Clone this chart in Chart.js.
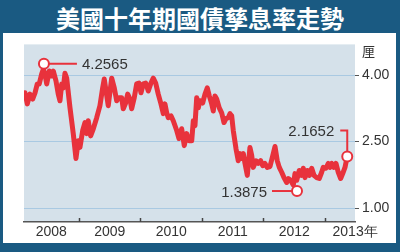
<!DOCTYPE html>
<html lang="zh-Hant">
<head>
<meta charset="UTF-8">
<title>美國十年期國債孳息率走勢</title>
<script src="https://cdn.jsdelivr.net/npm/chart.js"></script>
<style>
  body { margin: 0; width: 400px; height: 252px; background: #1a5a82; position: relative; overflow: hidden; }
  #title { position: absolute; left: 0; top: 0; width: 400px; height: 33px; line-height: 34px; text-align: center;
           color: #fff; font: bold 24px "Noto Sans CJK TC", sans-serif; }
  #panel { position: absolute; left: 3px; top: 33px; width: 393px; height: 210px; background: #fff; }
  #unit { position: absolute; left: 359px; top: 10px; font: 13px "Noto Sans CJK TC", sans-serif; color: #333; line-height: 16px; }
  canvas { position: absolute; left: 0; top: 0; }
</style>
</head>
<body>
<div id="title">美國十年期國債孳息率走勢</div>
<div id="panel">
  <canvas id="chart" width="393" height="210"></canvas>
  <div id="unit">厘</div>
</div>
<script>
// decimal years and yields (%)
const years = [
  2008.122, 2008.160, 2008.203, 2008.247, 2008.285, 2008.322, 2008.354, 2008.393, 2008.420, 2008.447,
  2008.475, 2008.517, 2008.556, 2008.582, 2008.626, 2008.663, 2008.691, 2008.719, 2008.745, 2008.772,
  2008.800, 2008.854, 2008.907, 2008.951, 2008.989, 2009.016, 2009.060, 2009.098, 2009.125, 2009.151,
  2009.190, 2009.233, 2009.288, 2009.341, 2009.385, 2009.411, 2009.476, 2009.532, 2009.574, 2009.613,
  2009.650, 2009.694, 2009.720, 2009.759, 2009.792, 2009.829, 2009.857, 2009.899, 2009.938, 2009.976,
  2010.008, 2010.046, 2010.085, 2010.127, 2010.171, 2010.208, 2010.247, 2010.289, 2010.333, 2010.371,
  2010.398, 2010.426, 2010.452, 2010.496, 2010.533, 2010.589, 2010.626, 2010.670, 2010.712, 2010.751,
  2010.789, 2010.833, 2010.859, 2010.886, 2010.914, 2010.940, 2010.967, 2011.011, 2011.049, 2011.086,
  2011.119, 2011.158, 2011.184, 2011.211, 2011.239, 2011.281, 2011.320, 2011.358, 2011.390, 2011.428,
  2011.455, 2011.483, 2011.509, 2011.553, 2011.590, 2011.618, 2011.646, 2011.672, 2011.699, 2011.737,
  2011.780, 2011.808, 2011.834, 2011.878, 2011.915, 2011.954, 2011.987, 2012.024, 2012.062, 2012.106,
  2012.159, 2012.187, 2012.224, 2012.257, 2012.296, 2012.333, 2012.377, 2012.403, 2012.442, 2012.485,
  2012.512, 2012.540, 2012.582, 2012.621, 2012.647, 2012.675, 2012.712, 2012.745, 2012.784, 2012.821,
  2012.865, 2012.907, 2012.946, 2012.972, 2013.016, 2013.054, 2013.081, 2013.109, 2013.146, 2013.179,
  2013.216, 2013.255, 2013.288, 2013.325, 2013.362
];
const yields = [
  3.60, 3.35, 3.57, 3.46, 3.60, 3.80, 3.80, 4.02, 4.13, 4.02,
  3.80, 4.09, 3.98, 4.09, 3.87, 3.57, 3.42, 3.80, 3.71, 4.04,
  3.93, 3.26, 2.68, 2.12, 2.52, 2.37, 2.75, 2.93, 2.68, 2.97,
  2.63, 2.79, 3.04, 3.31, 3.71, 3.91, 3.31, 3.93, 3.71, 3.42,
  3.49, 3.49, 3.24, 3.37, 3.57, 3.46, 3.24, 3.49, 3.80, 3.82,
  3.60, 3.80, 3.82, 3.64, 3.82, 3.93, 3.82, 3.57, 3.35, 3.13,
  3.35, 3.15, 3.04, 3.08, 2.97, 2.75, 2.57, 2.79, 2.41, 2.68,
  2.52, 2.52, 2.97, 2.86, 3.49, 3.26, 3.42, 3.37, 3.57, 3.71,
  3.53, 3.35, 3.19, 3.53, 3.46, 3.26, 3.15, 2.93, 3.02, 3.04,
  3.13, 3.08, 2.75, 2.34, 2.07, 2.23, 2.12, 2.23, 2.01, 1.74,
  2.37, 2.19, 1.92, 2.07, 2.01, 2.07, 1.96, 2.01, 1.92, 1.94,
  2.23, 2.39, 2.07, 1.92, 1.81, 1.69, 1.58, 1.67, 1.63, 1.52,
  1.78, 1.63, 1.85, 1.74, 1.90, 1.69, 1.85, 1.74, 1.90, 1.74,
  1.69, 1.67, 1.81, 1.92, 1.90, 2.01, 1.92, 2.01, 1.92, 2.01,
  1.81, 1.67, 1.78, 1.92, 2.17
];

// marked values: high, low, latest
const markYears = [2008.43, 2012.545, 2013.362];
const markValues = [4.2565, 1.3875, 2.1652];
const markLabels = ['4.2565', '1.3875', '2.1652'];

const yTicks = [1, 2.5, 4];
const yearMarks = [2009, 2010, 2011, 2012, 2013];
const xLabelPos = [2008.55, 2009.5, 2010.5, 2011.5, 2012.5, 2013.49];
const xLabels = ['2008', '2009', '2010', '2011', '2012', '2013年'];

const red = '#e8323c';
const textColor = '#333';
const labelFont = '"Liberation Sans", Arial, sans-serif';

const plotBg = {
  id: 'plotBg',
  beforeDraw(chart) {
    const { ctx, chartArea: a } = chart;
    ctx.save();
    ctx.fillStyle = '#d5e1ea';
    ctx.fillRect(a.left, a.top, a.right - a.left, a.bottom - a.top);
    ctx.restore();
  }
};

// small year separators sitting on the x axis
const yearTicks = {
  id: 'yearTicks',
  afterDraw(chart) {
    const { ctx, chartArea: a, scales } = chart;
    ctx.save();
    ctx.strokeStyle = '#444';
    ctx.lineWidth = 1.5;
    yearMarks.forEach(y => {
      const x = Math.round(scales.x.getPixelForValue(y)) + 0.5;
      ctx.beginPath();
      ctx.moveTo(x, a.bottom - 4);
      ctx.lineTo(x, a.bottom);
      ctx.stroke();
    });
    ctx.restore();
  }
};

// connector lines and value labels for the marked points
const callouts = {
  id: 'callouts',
  beforeDatasetsDraw(chart) {
    const pts = chart.getDatasetMeta(0).data;
    const ctx = chart.ctx;
    ctx.save();
    ctx.strokeStyle = red;
    ctx.lineWidth = 2;
    let p = pts[0];
    ctx.beginPath(); ctx.moveTo(p.x, p.y); ctx.lineTo(p.x + 33, p.y); ctx.stroke();
    p = pts[1];
    ctx.beginPath(); ctx.moveTo(p.x, p.y); ctx.lineTo(p.x - 25, p.y); ctx.stroke();
    p = pts[2];
    ctx.beginPath(); ctx.moveTo(p.x, p.y); ctx.lineTo(p.x, p.y - 26); ctx.lineTo(p.x - 7, p.y - 26); ctx.stroke();
    ctx.restore();
  },
  afterDatasetsDraw(chart) {
    const pts = chart.getDatasetMeta(0).data;
    const ctx = chart.ctx;
    ctx.save();
    ctx.fillStyle = textColor;
    ctx.font = '15px ' + labelFont;
    ctx.textBaseline = 'middle';
    ctx.textAlign = 'left';
    ctx.fillText(markLabels[0], pts[0].x + 38, pts[0].y + 1);
    ctx.textAlign = 'right';
    ctx.fillText(markLabels[1], pts[1].x - 30, pts[1].y + 2);
    ctx.fillText(markLabels[2], pts[2].x - 13, pts[2].y - 25);
    ctx.restore();
  }
};

new Chart(document.getElementById('chart'), {
  type: 'line',
  data: {
    datasets: [
      {
        data: markYears.map((x, i) => ({ x: x, y: markValues[i] })),
        showLine: false,
        pointRadius: 5,
        pointBackgroundColor: '#fff',
        pointBorderColor: red,
        pointBorderWidth: 2,
        order: 0,
        clip: false
      },
      {
        data: years.map((x, i) => ({ x: x, y: yields[i] })),
        borderColor: red,
        borderWidth: 5,
        borderJoinStyle: 'round',
        borderCapStyle: 'round',
        pointRadius: 0,
        tension: 0,
        order: 1
      }
    ]
  },
  options: {
    responsive: false,
    animation: false,
    events: [],
    layout: { padding: { left: 21, top: 10, right: 0, bottom: 0 } },
    plugins: { legend: { display: false }, tooltip: { enabled: false } },
    scales: {
      x: {
        type: 'linear',
        min: 2008.106,
        max: 2013.488,
        afterBuildTicks: s => { s.ticks = xLabelPos.map(v => ({ value: v })); },
        afterFit: s => { s.height = 21; },
        grid: { display: false, drawTicks: false },
        border: { display: true, color: '#555', width: 1.5 },
        ticks: {
          autoSkip: false,
          maxRotation: 0,
          padding: 2,
          color: textColor,
          font: { family: labelFont, size: 14 },
          callback: (v, i) => xLabels[i]
        }
      },
      y: {
        position: 'right',
        min: 0.69,
        max: 4.69,
        afterBuildTicks: s => { s.ticks = yTicks.map(v => ({ value: v })); },
        afterFit: s => { s.width = 41; },
        grid: { color: '#a9c9e2', lineWidth: 1, tickLength: 4, tickColor: '#555' },
        border: { display: false },
        ticks: {
          padding: 3,
          color: textColor,
          font: { family: labelFont, size: 14 },
          callback: v => v.toFixed(2)
        }
      }
    }
  },
  plugins: [plotBg, yearTicks, callouts]
});
</script>
</body>
</html>
